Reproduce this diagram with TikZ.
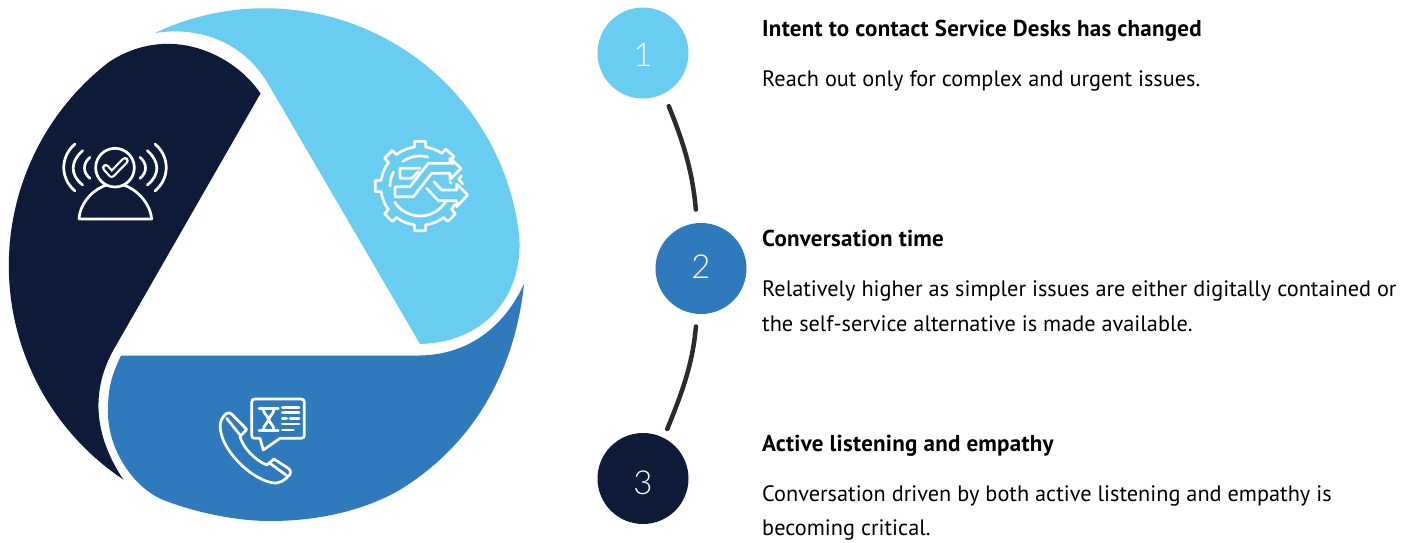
\documentclass[tikz,border=0pt]{standalone}
\usepackage{fontspec}
\setmainfont{PT Sans}
\newfontfamily\numf{Lato Light}
\definecolor{lightb}{HTML}{69CDF1}
\definecolor{midb}{HTML}{2F79BD}
\definecolor{navyb}{HTML}{0D1B38}
\definecolor{connc}{HTML}{2B2B2B}
\tikzset{
  numcirc/.style={circle,minimum size=91pt,inner sep=0pt},
  numtxt/.style={white,inner sep=0pt,font=\numf\fontsize{33}{33}\selectfont},
  head/.style={anchor=base west,inner sep=0pt,font=\fontsize{23}{23}\selectfont\bfseries\addfontfeature{LetterSpace=1.1},text=black},
  body/.style={anchor=base west,inner sep=0pt,font=\fontsize{22.3}{22.3}\selectfont,text=black},
  conn/.style={connc,line width=4.5pt,line cap=round},
  ico/.style={white,line width=2.7pt,line cap=round,line join=round},
}
\begin{document}
\begin{tikzpicture}[x=1pt,y=-1pt]
\useasboundingbox (0,0) rectangle (1413,542);
% segments
\fill[lightb] (155,33) arc[start angle=-115.4,end angle=-6.6,radius=256]
  .. controls (524,290) and (490,342) .. (420,344) -- (270,87) .. controls (245,42) and (200,26) .. (155,33) -- cycle;
\fill[navyb] (260.5,93.5) .. controls (235,55) and (170,22) .. (109,62) arc[start angle=232.4,end angle=123.7,radius=257]
  .. controls (97,440) and (88,395) .. (114,349) -- cycle;
\fill[midb] (121,355.5) -- (419,355.5) .. controls (470,355) and (505,325) .. (524,284)
  .. controls (516,360) and (482,440) .. (398,491) .. controls (360,512) and (315,521) .. (270,521) .. controls (235,521) and (195,512) .. (166,501) .. controls (135,490) and (107,450) .. (108,410) .. controls (108,385) and (113,373) .. (121,355.5) -- cycle;
% person icon
\begin{scope}[shift={(40,120)},scale=1/3]
\draw[ico] (225,143) circle[radius=58];
\draw[ico,line width=7.5pt] (197,143) -- (215,163) -- (255,122);
\draw[navyb,line width=3pt,line cap=round,line join=round] (197,143) -- (215,163) -- (255,122);
\draw[ico] (117,297) -- (335,297) .. controls (330,245) and (285,205) .. (250,195) (200,195) .. controls (165,205) and (120,245) .. (117,297);
\foreach \s/\o in {1/0,-1/450}{
\begin{scope}[shift={(\o,0)},xscale=\s]
\draw[ico] (105,72) .. controls (60,110) and (60,175) .. (105,213);
\draw[ico] (128,92) .. controls (90,125) and (90,165) .. (128,195);
\draw[ico] (150,112) .. controls (128,130) and (128,158) .. (150,175);
\end{scope}}
\end{scope}
% gear icon
\begin{scope}[shift={(360,130)},scale=1/3]
\begin{scope}[shift={(180,168)},yscale=-1]
\foreach \a in {48,90,135,180,225,270,315}{
  \draw[ico] (\a+8.3:118) -- (\a+7:135) -- (\a-7:135) -- (\a-8.3:118);
}
\foreach \a/\b in {56.3/81.7,98.3/126.7,143.3/171.7,188.3/216.7,233.3/261.7,278.3/306.7}{
  \draw[ico] (\a:118) arc[start angle=\a,end angle=\b,radius=118];
}
\draw[ico] (39.7:118) arc[start angle=39.7,end angle=34,radius=118];
\draw[ico] (323.3:118) arc[start angle=323.3,end angle=332,radius=118];
\draw[ico] (14:128) -- (10:118) -- (3:128);
\draw[ico] (125:90) arc[start angle=125,end angle=75,radius=90];
\draw[ico] (152:90) arc[start angle=152,end angle=180,radius=90];
\draw[ico] (212:90) arc[start angle=212,end angle=328,radius=90];
\end{scope}
\draw[ico] (303,115) -- (270,85) -- (270,100) -- (205,100) -- (150,170) -- (105,170) -- (105,200) -- (160,200) -- (215,130) -- (270,130) -- (270,148) -- cycle;
\draw[ico] (180,115) -- (120,115) -- (120,145) -- (155,145) -- (175,125);
\draw[ico] (222,155) -- (245,180) -- (290,180) -- (290,162) -- (323,195) -- (290,230) -- (290,212) -- (235,212) -- (200,175);
\draw[ico] (270,155) -- (273,160);
\end{scope}
% phone icon
\begin{scope}[shift={(205,385)},scale=1/3]
\draw[ico] (150,42) -- (288,42) .. controls (295,42) and (298,45) .. (298,52) -- (298,150) .. controls (298,157) and (295,160) .. (288,160) -- (225,160) -- (175,195) -- (165,160) -- (150,160) .. controls (143,160) and (140,157) .. (140,150) -- (140,52) .. controls (140,45) and (143,42) .. (150,42) -- cycle;
\draw[ico] (162,70) -- (220,70) (162,137) -- (220,137);
\draw[ico] (175,72) .. controls (175,88) and (190,92) .. (190,103) .. controls (190,114) and (175,120) .. (175,135);
\draw[ico] (207,72) .. controls (207,88) and (192,92) .. (192,103) .. controls (192,114) and (207,120) .. (207,135);
\draw[ico] (232,68) -- (282,68) (232,83) -- (282,83) (232,100) -- (245,100) (255,100) -- (282,100) (232,117) -- (282,117) (232,135) -- (265,135);
\draw[ico] (105,155) -- (125,133) -- (80,87) .. controls (70,80) and (62,85) .. (55,95) .. controls (40,115) and (45,140) .. (55,165) .. controls (75,215) and (140,280) .. (200,293) .. controls (225,298) and (240,285) .. (255,268) .. controls (258,262) and (258,258) .. (250,250) -- (207,222) -- (185,240) .. controls (150,225) and (115,190) .. (105,155);
\draw[ico] (65,100) -- (105,150) (195,235) -- (243,270);
\end{scope}
% timeline
\node[numcirc,fill=lightb] (c1) at (643,53) {};
\node[numcirc,fill=midb] (c2) at (701,268.5) {};
\node[numcirc,fill=navyb] (c3) at (643,478.5) {};
\node[numtxt] (n1) at (643,55) {1};
\node[numtxt] (n2) at (701,267) {2};
\node[numtxt] (n3) at (643,482.5) {3};
\draw[conn,shorten <=13.5pt,shorten >=13.5pt] (c1.-63) to[out=-68,in=95] (c2.95);
\draw[conn,shorten <=12.5pt,shorten >=9.5pt] (c2.-95) to[out=-95,in=68] (c3.63);
% texts
\node[head] (h1) at (762,36) {Intent to contact Service Desks has changed};
\node[body] (b1) at (762,86) {Reach out only for complex and urgent issues.};
\node[head] (h2) at (762,246) {Conversation time};
\node[body] (b2a) at (762,296) {Relatively higher as simpler issues are either digitally contained or};
\node[body] (b2b) at (762,331) {the self-service alternative is made available.};
\node[head] (h3) at (762,451) {Active listening and empathy};
\node[body] (b3a) at (762,501) {Conversation driven by both active listening and empathy is};
\node[body] (b3b) at (762,535) {becoming critical.};
\end{tikzpicture}
\end{document}
